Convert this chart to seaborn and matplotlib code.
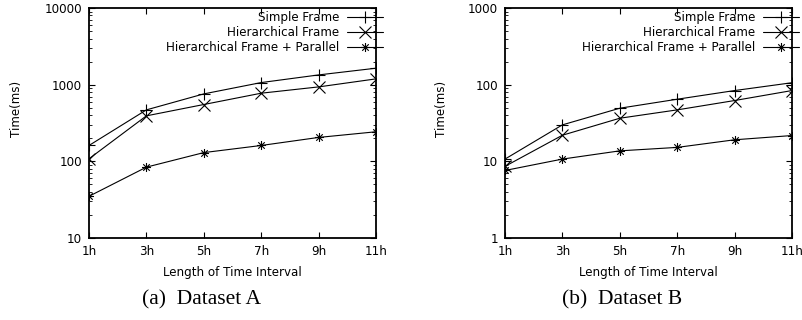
import numpy as np
import pandas as pd
import matplotlib
matplotlib.use("Agg")
import matplotlib.pyplot as plt
from matplotlib.path import Path
import seaborn as sns

# ---- data ----
hours = [1, 3, 5, 7, 9, 11]
hour_labels = ["1h", "3h", "5h", "7h", "9h", "11h"]
series_names = ["Simple Frame", "Hierarchical Frame", "Hierarchical Frame + Parallel"]

a_simple = [161, 469, 758, 1065, 1340, 1640]
a_hier = [108, 392, 551, 774, 935, 1190]
a_parallel = [35, 84, 130, 161, 205, 243]

b_simple = [10.7, 29.9, 49.3, 64.6, 83.8, 106]
b_hier = [8.6, 21.9, 36.5, 46.9, 62.1, 83.8]
b_parallel = [7.6, 10.7, 13.7, 15.2, 19.1, 21.7]

captions = ["(a)  Dataset A", "(b)  Dataset B"]
ylims = [(10, 10000), (1, 1000)]

sns.set_style("ticks")
plt.rcParams["font.family"] = ["DejaVu Sans"]
plt.rcParams["text.color"] = "black"
plt.rcParams["axes.labelcolor"] = "black"
plt.rcParams["xtick.color"] = "black"
plt.rcParams["ytick.color"] = "black"

# gnuplot-like asterisk marker
ast = Path([(-1, 0), (1, 0), (0, -1), (0, 1),
            (-0.72, -0.72), (0.72, 0.72), (-0.72, 0.72), (0.72, -0.72)],
           [Path.MOVETO, Path.LINETO] * 4)
markers = ["+", "x", ast]
msizes = [9, 8.0, 6.5]

fig = plt.figure(figsize=(8.03, 3.2), dpi=100)
W, H = 803, 320
# (axes left px, ylabel right-edge px, caption center px, data)
panels = [
    (89, 23, 202, [a_simple, a_hier, a_parallel]),
    (505, 448, 622, [b_simple, b_hier, b_parallel]),
]

fs = 8.6
for i, (x0, ylab_x, cap_x, data) in enumerate(panels):
    ax = fig.add_axes([x0 / W, (H - 238) / H, 287 / W, 230 / H])
    for name, vals, mk, ms in zip(series_names, data, markers, msizes):
        df = pd.DataFrame({"hour": hours, "time": vals})
        sns.lineplot(data=df, x="hour", y="time", ax=ax, color="black",
                     linewidth=0.8, marker=mk, markersize=ms,
                     markeredgewidth=0.8, markerfacecolor="none",
                     markeredgecolor="black", label=name)
    ax.set_yscale("log")
    ax.set_ylim(*ylims[i])
    ax.set_xlim(1, 11)
    ax.set_xticks(hours)
    ax.set_xticklabels(hour_labels)
    ax.yaxis.set_major_formatter(matplotlib.ticker.FuncFormatter(lambda v, p: f"{v:g}"))
    ax.tick_params(axis="both", which="both", direction="in", top=True, right=True,
                   labelsize=fs, colors="black", labelcolor="black")
    ax.tick_params(axis="both", which="major", length=4, width=0.8, pad=5)
    ax.tick_params(axis="y", which="minor", length=2, width=0.6)
    ax.tick_params(axis="x", which="minor", bottom=False, top=False)
    for sp in ax.spines.values():
        sp.set_linewidth(1.3)
        sp.set_color("black")
    ax.set_xlabel("Length of Time Interval", fontsize=fs, labelpad=6, color="black")
    ax.set_ylabel("Time(ms)", fontsize=fs, color="black")
    ax.yaxis.set_label_coords((ylab_x - x0) / 287, 0.56)
    ax.grid(False)
    leg = ax.legend(loc="upper right", bbox_to_anchor=(1.025, 0.985), frameon=False,
                    markerfirst=False, fontsize=fs, handlelength=3.0,
                    handletextpad=0.7, labelspacing=0.15, borderpad=0,
                    borderaxespad=0, labelcolor="black")
    for line in leg.get_lines():
        line.set_linewidth(0.8)
    fig.text(cap_x / W, (H - 300) / H, captions[i], ha="center", va="center",
             fontsize=15.5, color="black",
             family=["Liberation Serif", "DejaVu Serif"])

fig.savefig("out.png", dpi=100)
